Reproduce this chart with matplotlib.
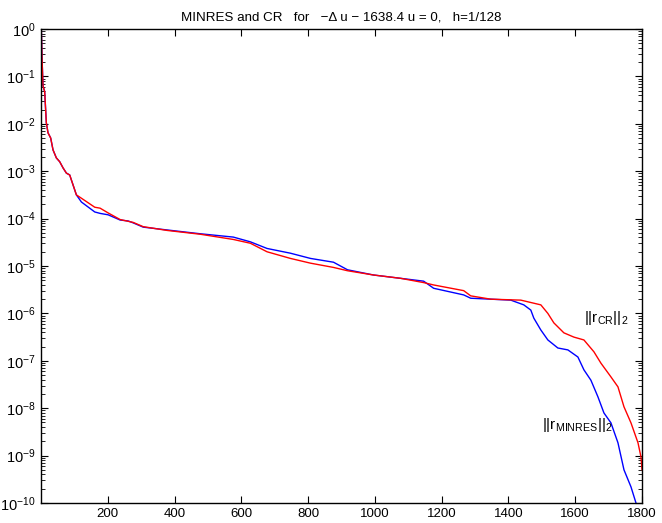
import numpy as np
import matplotlib
matplotlib.use("Agg")
import matplotlib.pyplot as plt
from matplotlib.ticker import FixedLocator, NullFormatter, FixedFormatter

plt.rcParams['font.family'] = ['Liberation Sans', 'DejaVu Sans']
plt.rcParams['mathtext.fontset'] = 'custom'
plt.rcParams['mathtext.rm'] = 'Liberation Sans'
plt.rcParams['mathtext.it'] = 'Liberation Sans:italic'
plt.rcParams['mathtext.bf'] = 'Liberation Sans:bold'

# Residual histories: iteration numbers and log10 of the residual norm
minres_iter = [1, 3, 6, 11, 16, 21, 29, 36, 46, 56, 66, 76, 86, 96, 106,
               121, 161, 177, 201, 237, 261, 276, 306, 378, 477, 576, 627,
               677, 747, 807, 876, 918, 996, 1077, 1146, 1176, 1266, 1287,
               1347, 1407, 1446, 1467, 1476, 1497, 1518, 1548, 1578, 1608,
               1626, 1647, 1668, 1686, 1707, 1728, 1746, 1767, 1782]
minres_log = [0.0, -0.6, -1.2, -1.32, -1.98, -2.19, -2.3, -2.55, -2.72, -2.8,
              -2.93, -3.04, -3.08, -3.29, -3.5,
              -3.65, -3.86, -3.89, -3.92, -4.03, -4.05, -4.09, -4.18, -4.24,
              -4.32, -4.39, -4.49, -4.63, -4.73, -4.84, -4.92, -5.08, -5.19,
              -5.26, -5.32, -5.47, -5.61, -5.68, -5.70, -5.72, -5.82, -5.93,
              -6.10, -6.35, -6.56, -6.73, -6.77, -6.92, -7.19, -7.41, -7.76,
              -8.10, -8.31, -8.73, -9.30, -9.66, -10.0]

cr_iter = [1, 3, 6, 11, 16, 21, 29, 36, 46, 56, 66, 76, 86, 96, 106,
           121, 161, 177, 201, 237, 276, 306, 378, 477, 576, 627, 677, 747,
           807, 876, 918, 996, 1077, 1146, 1176, 1266, 1287, 1347, 1437,
           1497, 1518, 1536, 1566, 1596, 1626, 1656, 1677, 1707, 1728, 1746,
           1767, 1788, 1797, 1800]
cr_log = [0.0, -0.6, -1.2, -1.32, -1.98, -2.19, -2.3, -2.55, -2.72, -2.8,
          -2.93, -3.04, -3.08, -3.29, -3.5,
          -3.57, -3.76, -3.78, -3.88, -4.02, -4.08, -4.17, -4.25, -4.33,
          -4.44, -4.52, -4.70, -4.84, -4.94, -5.03, -5.10, -5.19, -5.26,
          -5.35, -5.40, -5.52, -5.63, -5.70, -5.72, -5.82, -6.0, -6.2,
          -6.41, -6.50, -6.56, -6.81, -7.05, -7.34, -7.55, -7.97, -8.31,
          -8.73, -9.03, -9.3]

x_ticks = [200, 400, 600, 800, 1000, 1200, 1400, 1600, 1800]
y_decades = list(range(-10, 1))
y_tick_labels = [r'$\mathrm{10}^{%d}$' % d for d in y_decades]

fig = plt.figure(figsize=(6.62, 5.23), dpi=100)
ax = fig.add_axes([41 / 662, 20 / 523, 601 / 662, 474 / 523])

ax.semilogy(minres_iter, 10.0 ** np.array(minres_log), color='#0000ff', lw=1.0)
ax.semilogy(cr_iter, 10.0 ** np.array(cr_log), color='#ff0000', lw=1.0)

ax.set_xlim(0, 1800)
ax.set_ylim(1e-10, 1e0)
ax.xaxis.set_major_locator(FixedLocator(x_ticks))
ax.yaxis.set_major_locator(FixedLocator([10.0 ** d for d in y_decades]))
ax.yaxis.set_major_formatter(FixedFormatter(y_tick_labels))
minor = [m * 10.0 ** d for d in y_decades[:-1] for m in range(2, 10)]
ax.yaxis.set_minor_locator(FixedLocator(minor))
ax.yaxis.set_minor_formatter(NullFormatter())

ax.tick_params(which='both', direction='in', top=True, right=True,
               labelsize=9.5, colors='black')
ax.tick_params(which='major', length=5, width=0.8)
ax.tick_params(which='minor', length=3, width=0.6)
ax.tick_params(axis='y', labelsize=10.5, pad=4)
for s in ax.spines.values():
    s.set_linewidth(1.0)

ax.text(1626, 10 ** -6.1, r'$||\mathrm{r}_{\mathrm{CR}}||_2$', fontsize=11,
        ha='left', va='center')
ax.text(1500, 10 ** -8.35, r'$||\mathrm{r}_{\mathrm{MINRES}}||_2$', fontsize=11,
        ha='left', va='center')

ax.set_title('MINRES and CR   for   \u2212\u0394 u \u2212 1638.4 u = 0,   h=1/128',
             fontsize=9.6, pad=6)

fig.savefig('out.png', dpi=100)
